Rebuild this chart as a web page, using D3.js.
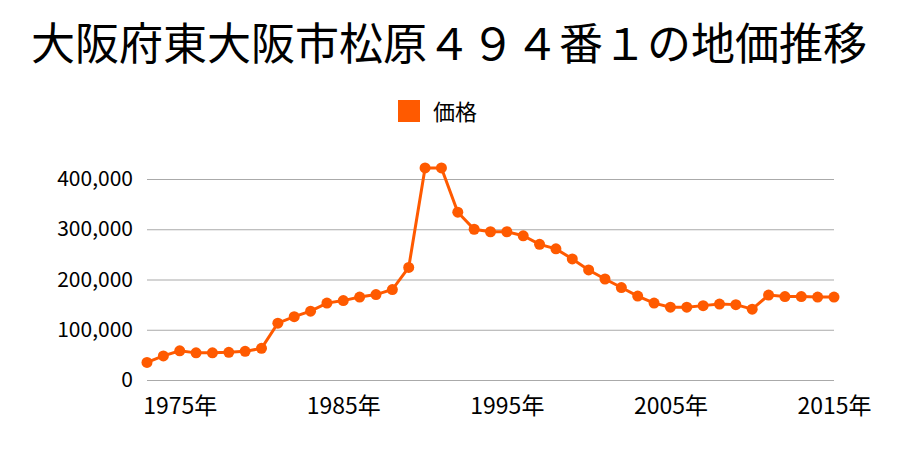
<!DOCTYPE html>
<html><head><meta charset="utf-8">
<script src="https://cdn.jsdelivr.net/npm/d3@7"></script>
<style>body{margin:0;background:#fff}svg{display:block}</style>
</head><body>
<svg id="c" width="900" height="450"></svg>
<script>
const title = "大阪府東大阪市松原４９４番１の地価推移";
const seriesName = "価格";
const years = d3.range(1973, 2016);
const prices = [35000, 48000, 58000, 54000, 54000, 55000, 57000, 63000,
  113000, 126000, 137000, 153000, 158000, 165000, 170000, 180000, 224000,
  422000, 422000, 334000, 300000, 295000, 295000, 287000, 270000, 261000,
  241000, 219000, 201000, 184000, 167000, 153000, 145000, 145000, 148000,
  151000, 150000, 141000, 169000, 166000, 166000, 165000, 165000];
const yTicks = [0, 100000, 200000, 300000, 400000];
const xTicks = [1975, 1985, 1995, 2005, 2015];

const font = "'Noto Sans CJK JP','Noto Sans',sans-serif";
const color = "#ff5a00";
const svg = d3.select("#c");
const x = d3.scaleLinear().domain([1973, 2015]).range([147, 834]);
const y = d3.scaleLinear().domain([0, 400000]).range([380, 179]);

svg.append("text").attr("x", 449).attr("y", 60).attr("text-anchor", "middle")
  .attr("font-family", font).attr("font-size", 44).attr("fill", "#000").text(title);

svg.append("rect").attr("x", 398).attr("y", 100).attr("width", 22).attr("height", 22).attr("fill", color);
svg.append("text").attr("x", 433).attr("y", 120).attr("font-family", font)
  .attr("font-size", 22).attr("fill", "#000").text(seriesName);

const yAxis = d3.axisLeft(y).tickValues(yTicks).tickSize(-(834 - 147))
  .tickFormat(d3.format(","));
const ga = svg.append("g").attr("transform", "translate(147,0)").call(yAxis);
ga.select(".domain").remove();
ga.selectAll("line").attr("stroke", "#aaa").attr("stroke-width", 1.2);
ga.selectAll("text").attr("x", -14).attr("font-family", font).attr("font-size", 21).attr("fill", "#000");

const xAxis = d3.axisBottom(x).tickValues(xTicks).tickSize(0).tickFormat(d => d + "年");
const gx = svg.append("g").attr("transform", "translate(0,380)").call(xAxis);
gx.select(".domain").remove();
gx.selectAll("text").attr("dy", 0).attr("y", 34).attr("font-family", font).attr("font-size", 23).attr("fill", "#000");

const data = years.map((yr, i) => ({yr, v: prices[i]}));
svg.append("path").datum(data)
  .attr("d", d3.line().x(d => x(d.yr)).y(d => y(d.v)))
  .attr("fill", "none").attr("stroke", color).attr("stroke-width", 3);
svg.append("g").selectAll("circle").data(data).join("circle")
  .attr("cx", d => x(d.yr)).attr("cy", d => y(d.v)).attr("r", 5.5).attr("fill", color);
</script>
</body></html>
